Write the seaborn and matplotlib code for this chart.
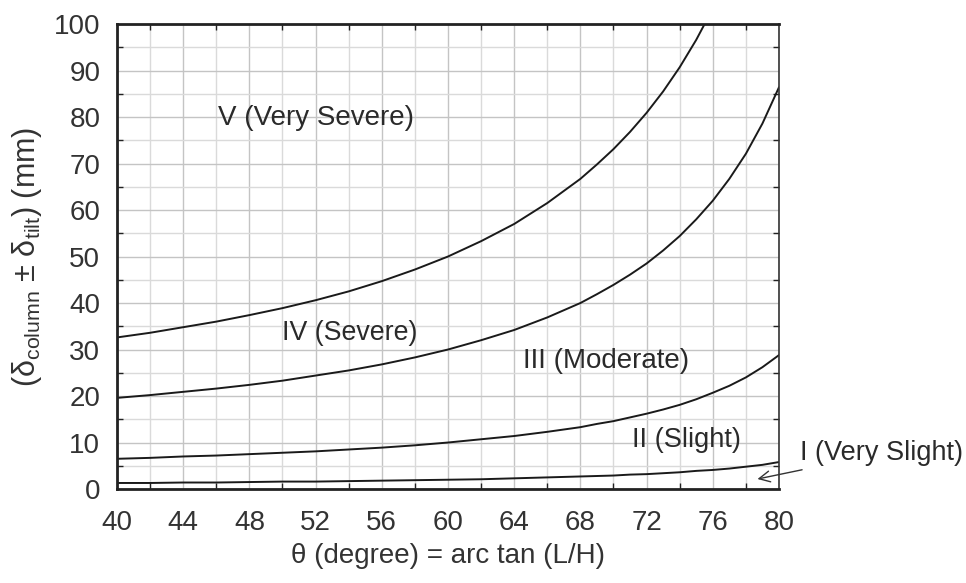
import numpy as np
import pandas as pd
import matplotlib
matplotlib.use("Agg")
import matplotlib.pyplot as plt
import seaborn as sns
from matplotlib.ticker import MultipleLocator

# ---- data ----
theta = [40, 42, 44, 46, 48, 50, 52, 54, 56, 58, 60, 62, 64, 66, 68,
         69, 70, 71, 72, 73, 74, 75, 76, 77, 78, 79, 80]
curve_V_IV = [32.6, 33.6, 34.8, 36.0, 37.4, 38.9, 40.6, 42.5, 44.7, 47.2, 50.0, 53.3, 57.0, 61.5, 66.7,
              69.8, 73.1, 76.8, 80.9, 85.5, 90.7, 96.6, 103.3, np.nan, np.nan, np.nan, np.nan]
curve_IV_III = [19.6, 20.2, 20.9, 21.6, 22.4, 23.3, 24.4, 25.5, 26.8, 28.3, 30.0, 32.0, 34.2, 36.9, 40.0,
                41.9, 43.9, 46.1, 48.5, 51.3, 54.4, 58.0, 62.0, 66.7, 72.1, 78.6, 86.4]
curve_III_II = [6.5, 6.7, 7.0, 7.2, 7.5, 7.8, 8.1, 8.5, 8.9, 9.4, 10.0, 10.7, 11.4, 12.3, 13.3,
                14.0, 14.6, 15.4, 16.2, 17.1, 18.1, 19.3, 20.7, 22.2, 24.0, 26.2, 28.8]
curve_II_I = [1.3, 1.3, 1.4, 1.4, 1.5, 1.6, 1.6, 1.7, 1.8, 1.9, 2.0, 2.1, 2.3, 2.5, 2.7,
              2.8, 2.9, 3.1, 3.2, 3.4, 3.6, 3.9, 4.1, 4.4, 4.8, 5.2, 5.8]

region_labels = ["V (Very Severe)", "IV (Severe)", "III (Moderate)", "II (Slight)", "I (Very Slight)"]
x_ticks = [40, 44, 48, 52, 56, 60, 64, 68, 72, 76, 80]
y_ticks = [0, 10, 20, 30, 40, 50, 60, 70, 80, 90, 100]

curves = {"V/IV": curve_V_IV, "IV/III": curve_IV_III, "III/II": curve_III_II, "II/I": curve_II_I}
frames = []
for name, vals in curves.items():
    frames.append(pd.DataFrame({"theta": theta, "delta": vals, "curve": name}))
df = pd.concat(frames, ignore_index=True).dropna()

# ---- style ----
sns.set_theme(style="white")
plt.rcParams["font.family"] = ["Liberation Sans", "DejaVu Sans"]
plt.rcParams["mathtext.fontset"] = "custom"
plt.rcParams["mathtext.rm"] = "Liberation Sans"

fig = plt.figure(figsize=(9.66, 5.83), dpi=100)
ax = fig.add_axes([0.1211, 0.1612, 0.8064 - 0.1211, 0.9588 - 0.1612])

sns.lineplot(data=df, x="theta", y="delta", units="curve", estimator=None,
             color="#1a1a1a", linewidth=1.4, ax=ax, sort=True, legend=False)

ax.set_xlim(40, 80)
ax.set_ylim(0, 100)
ax.set_xticks(x_ticks)
ax.set_yticks(y_ticks)
ax.xaxis.set_minor_locator(MultipleLocator(2))
ax.yaxis.set_minor_locator(MultipleLocator(5))
ax.grid(which="major", color="#c4c4c4", linewidth=1.0)
ax.grid(which="minor", color="#dadada", linewidth=1.0)
ax.set_axisbelow(True)

ax.tick_params(which="major", direction="out", length=5, width=1.2, color="#222",
               labelsize=20, labelcolor="#333")
ax.tick_params(axis="x", which="major", pad=10)
ax.tick_params(axis="y", which="major", pad=7)
ax.tick_params(which="minor", direction="in", length=4, width=1.0, color="#222",
               top=True, right=True, bottom=True, left=True)

for side in ["left", "bottom", "top"]:
    ax.spines[side].set_linewidth(2.0)
    ax.spines[side].set_color("#222")
ax.spines["right"].set_linewidth(1.2)
ax.spines["right"].set_color("#333")

ax.set_xlabel("θ (degree) = arc tan (L/H)", fontsize=20, color="#333", labelpad=5)
ax.set_ylabel(r"(δ$_\mathregular{column}$ ± δ$_\mathregular{tilt}$) (mm)",
              fontsize=22, color="#333", labelpad=7)

tc = "#2a2a2a"
ax.text(46.1, 79.8, region_labels[0], fontsize=20, color=tc, va="center", ha="left")
ax.text(50.0, 33.5, region_labels[1], fontsize=19.3, color=tc, va="center", ha="left")
ax.text(64.55, 27.6, region_labels[2], fontsize=20, color=tc, va="center", ha="left")
ax.text(71.1, 10.5, region_labels[3], fontsize=19.6, color=tc, va="center", ha="left")
ax.annotate(region_labels[4], xy=(78.7, 2.15), xytext=(81.3, 7.7),
            fontsize=19.5, color=tc, va="center", ha="left", annotation_clip=False,
            arrowprops=dict(arrowstyle="->", color="#333", lw=1.0,
                            shrinkA=1, shrinkB=0))

fig.savefig("out.png", dpi=100)
